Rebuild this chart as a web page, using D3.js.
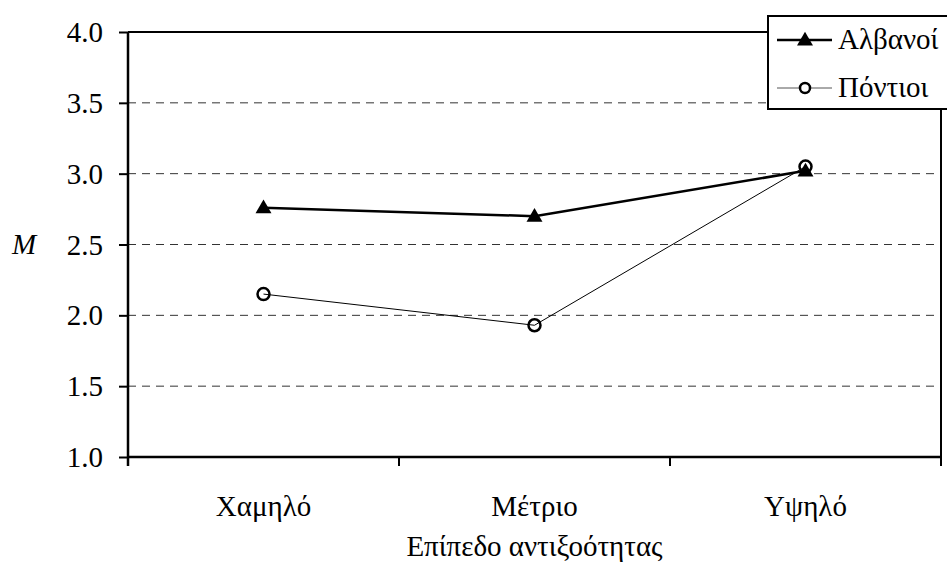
<!DOCTYPE html>
<html>
<head>
<meta charset="utf-8">
<script src="https://cdn.jsdelivr.net/npm/d3@7"></script>
<style>
  body { margin: 0; background: #fff; }
</style>
</head>
<body>
<svg id="chart" width="947" height="566"></svg>
<script>
// data
const categories = ['Χαμηλό', 'Μέτριο', 'Υψηλό']
const albanians = [2.76, 2.70, 3.02]
const pontians = [2.15, 1.93, 3.05]
const yTicks = [1.0, 1.5, 2.0, 2.5, 3.0, 3.5, 4.0]
const seriesNames = ['Αλβανοί', 'Πόντιοι']
const xTitle = 'Επίπεδο αντιξοότητας'
const yTitle = 'M'

const FONT = "'Liberation Serif', Tinos, 'Times New Roman', Times, 'Noto Serif', 'DejaVu Serif', serif"
const FS = 29

const svg = d3.select('#chart').attr('font-family', FONT)
const pLeft = 128, pRight = 941, pTop = 32, pBottom = 457

const x = d3.scaleBand().domain(categories).range([pLeft, pRight])
const y = d3.scaleLinear().domain([1, 4]).range([pBottom, pTop])

// dashed grid
svg.append('g')
  .selectAll('line')
  .data(yTicks.filter(d => d > 1 && d < 4))
  .join('line')
  .attr('x1', pLeft).attr('x2', pRight)
  .attr('y1', d => y(d)).attr('y2', d => y(d))
  .attr('stroke', '#333').attr('stroke-width', 1)
  .attr('stroke-dasharray', '8,6')

// top and right border
svg.append('path')
  .attr('d', `M${pLeft},${pTop}H${pRight}V${pBottom}`)
  .attr('fill', 'none').attr('stroke', '#000').attr('stroke-width', 2)

// y axis
const yAxis = svg.append('g')
  .attr('transform', `translate(${pLeft},0)`)
  .call(d3.axisLeft(y).tickValues(yTicks).tickFormat(d3.format('.1f')).tickSize(9).tickPadding(16))
  .attr('font-family', FONT).attr('font-size', FS)
yAxis.select('.domain').attr('stroke-width', 2.5).attr('d', `M0,${pTop}V${pBottom + 9}`)
yAxis.selectAll('.tick line').attr('stroke-width', 2)
yAxis.selectAll('text').attr('dy', '0.33em')

// x axis: ticks at band edges
const xAxis = svg.append('g')
  .attr('transform', `translate(0,${pBottom})`)
  .call(d3.axisBottom(x).tickSize(0).tickPadding(38))
  .attr('font-family', FONT).attr('font-size', FS)
xAxis.select('.domain').attr('stroke-width', 2.5).attr('d', `M${pLeft},0H${pRight}`)
xAxis.selectAll('.edge')
  .data(categories.map(c => x(c)).concat([pRight]))
  .join('line')
  .attr('class', 'edge')
  .attr('x1', d => d).attr('x2', d => d)
  .attr('y1', 0).attr('y2', 9)
  .attr('stroke', '#000').attr('stroke-width', 2)

// axis titles
svg.append('text')
  .attr('x', (pLeft + pRight) / 2).attr('y', 556)
  .attr('text-anchor', 'middle')
  .attr('font-size', FS)
  .text(xTitle)
svg.append('text')
  .attr('x', 12).attr('y', y(2.5) + 9)
  .attr('font-size', FS).attr('font-style', 'italic')
  .text(yTitle)

const cx = c => x(c) + x.bandwidth() / 2
const line = d3.line().x(d => cx(d[0])).y(d => y(d[1]))
const tri = d3.symbol().type(d3.symbolTriangle).size(110)

// Pontians
svg.append('path')
  .datum(categories.map((c, i) => [c, pontians[i]]))
  .attr('d', line)
  .attr('fill', 'none').attr('stroke', '#000').attr('stroke-width', 1)

// Albanians
svg.append('path')
  .datum(categories.map((c, i) => [c, albanians[i]]))
  .attr('d', line)
  .attr('fill', 'none').attr('stroke', '#000').attr('stroke-width', 2.5)

svg.append('g')
  .selectAll('circle')
  .data(categories.map((c, i) => [c, pontians[i]]))
  .join('circle')
  .attr('cx', d => cx(d[0])).attr('cy', d => y(d[1]))
  .attr('r', 6)
  .attr('fill', 'none').attr('stroke', '#000').attr('stroke-width', 2.5)

svg.append('g')
  .selectAll('path')
  .data(categories.map((c, i) => [c, albanians[i]]))
  .join('path')
  .attr('d', tri)
  .attr('transform', d => `translate(${cx(d[0])},${y(d[1]) + 1})`)
  .attr('fill', '#000')

// legend
const lg = svg.append('g')
lg.append('rect')
  .attr('x', 768).attr('y', 16).attr('width', 200).attr('height', 93)
  .attr('fill', '#fff').attr('stroke', '#000').attr('stroke-width', 2)
lg.append('line')
  .attr('x1', 777).attr('x2', 832).attr('y1', 40).attr('y2', 40)
  .attr('stroke', '#000').attr('stroke-width', 2.5)
lg.append('path').attr('d', tri).attr('transform', 'translate(805,41)').attr('fill', '#000')
lg.append('line')
  .attr('x1', 777).attr('x2', 832).attr('y1', 88).attr('y2', 88)
  .attr('stroke', '#555').attr('stroke-width', 1)
lg.append('circle').attr('cx', 805).attr('cy', 88).attr('r', 5)
  .attr('fill', '#fff').attr('stroke', '#000').attr('stroke-width', 2.5)
lg.selectAll('text')
  .data(seriesNames)
  .join('text')
  .attr('x', 838).attr('y', (d, i) => 40 + i * 48 + 9)
  .attr('font-size', FS)
  .text(d => d)
</script>
</body>
</html>
